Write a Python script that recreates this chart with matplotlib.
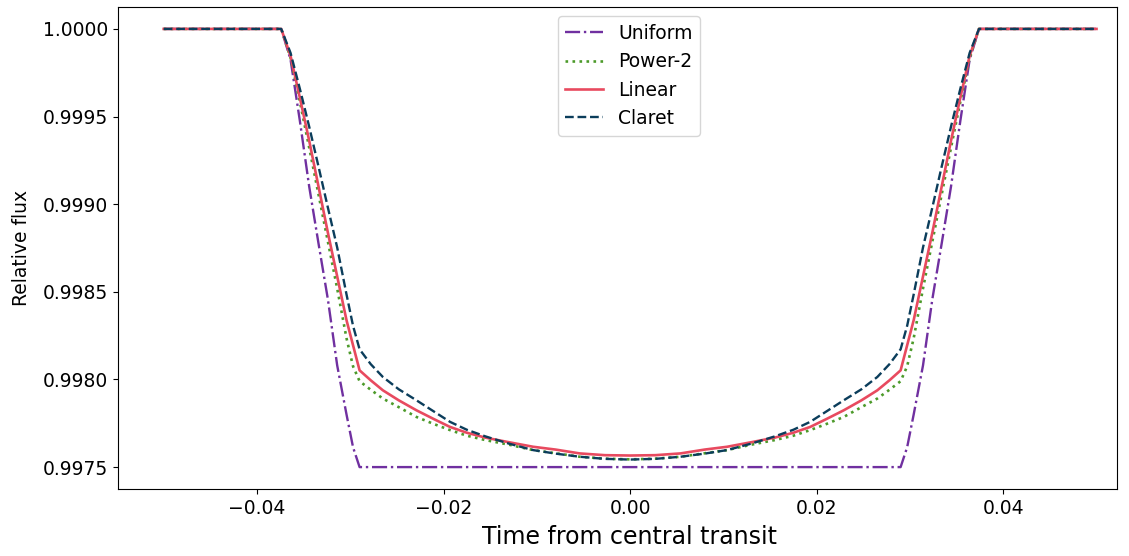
import numpy as np
import matplotlib
matplotlib.use("Agg")
import matplotlib.pyplot as plt

# --- data ---
time = [-0.0500, -0.0374, -0.0364, -0.0354, -0.0344, -0.0334, -0.0324, -0.0314,
        -0.0304, -0.0297, -0.0290, -0.0278, -0.0265, -0.0248, -0.0229, -0.0210,
        -0.0193, -0.0175, -0.0155, -0.0130, -0.0104, -0.0080, -0.0054, -0.0027,
        0.0000,
        0.0027, 0.0054, 0.0080, 0.0104, 0.0130, 0.0155, 0.0175, 0.0193,
        0.0210, 0.0229, 0.0248, 0.0265, 0.0278, 0.0290, 0.0297, 0.0304,
        0.0314, 0.0324, 0.0334, 0.0344, 0.0354, 0.0364, 0.0374, 0.0500]

flux_uniform = [1.000000, 1.000000, 0.999825, 0.999475, 0.999100, 0.998775, 0.998458, 0.998080,
                0.997800, 0.997613, 0.997500, 0.997500, 0.997500, 0.997500, 0.997500, 0.997500,
                0.997500, 0.997500, 0.997500, 0.997500, 0.997500, 0.997500, 0.997500, 0.997500,
                0.997500,
                0.997500, 0.997500, 0.997500, 0.997500, 0.997500, 0.997500, 0.997500, 0.997500,
                0.997500, 0.997500, 0.997500, 0.997500, 0.997500, 0.997500, 0.997613, 0.997800,
                0.998080, 0.998458, 0.998775, 0.999100, 0.999475, 0.999825, 1.000000, 1.000000]

flux_power2 = [1.000000, 1.000000, 0.999835, 0.999584, 0.999322, 0.999055, 0.998787, 0.998519,
               0.998235, 0.998075, 0.997990, 0.997941, 0.997891, 0.997842, 0.997786, 0.997745,
               0.997711, 0.997679, 0.997654, 0.997628, 0.997597, 0.997579, 0.997559, 0.997548,
               0.997544,
               0.997548, 0.997559, 0.997579, 0.997597, 0.997628, 0.997654, 0.997679, 0.997711,
               0.997745, 0.997786, 0.997842, 0.997891, 0.997941, 0.997990, 0.998075, 0.998235,
               0.998519, 0.998787, 0.999055, 0.999322, 0.999584, 0.999835, 1.000000, 1.000000]

flux_linear = [1.000000, 1.000000, 0.999846, 0.999607, 0.999362, 0.999100, 0.998838, 0.998588,
               0.998338, 0.998195, 0.998052, 0.997995, 0.997938, 0.997881, 0.997824, 0.997773,
               0.997729, 0.997696, 0.997668, 0.997642, 0.997616, 0.997600, 0.997578, 0.997568,
               0.997566,
               0.997568, 0.997578, 0.997600, 0.997616, 0.997642, 0.997668, 0.997696, 0.997729,
               0.997773, 0.997824, 0.997881, 0.997938, 0.997995, 0.998052, 0.998195, 0.998338,
               0.998588, 0.998838, 0.999100, 0.999362, 0.999607, 0.999846, 1.000000, 1.000000]

flux_claret = [1.000000, 1.000000, 0.999863, 0.999658, 0.999442, 0.999214, 0.998981, 0.998753,
               0.998485, 0.998306, 0.998172, 0.998087, 0.998014, 0.997944, 0.997881, 0.997816,
               0.997758, 0.997713, 0.997675, 0.997634, 0.997597, 0.997577, 0.997559, 0.997547,
               0.997543,
               0.997547, 0.997559, 0.997577, 0.997597, 0.997634, 0.997675, 0.997713, 0.997758,
               0.997816, 0.997881, 0.997944, 0.998014, 0.998087, 0.998172, 0.998306, 0.998485,
               0.998753, 0.998981, 0.999214, 0.999442, 0.999658, 0.999863, 1.000000, 1.000000]

# --- plotting ---
fig = plt.figure(figsize=(11.29, 5.56), dpi=100)
ax = fig.add_axes([0.1045, 0.1205, 0.8849, 0.8669])

ax.plot(time, flux_uniform, '-.', color='#7030a0', lw=1.7, label='Uniform')
ax.plot(time, flux_power2, ':', color='#4c9a2a', lw=1.9, label='Power-2')
ax.plot(time, flux_linear, '-', color='#e84a5f', lw=1.9, label='Linear')
ax.plot(time, flux_claret, '--', color='#0b3d5b', lw=1.7, label='Claret')

ax.set_xlim(-0.0549, 0.0522)
ax.set_xticks([-0.04, -0.02, 0.0, 0.02, 0.04])
ax.set_yticks([0.9975, 0.998, 0.9985, 0.999, 0.9995, 1.0])
ax.yaxis.set_major_formatter(matplotlib.ticker.FormatStrFormatter('%.4f'))
ax.tick_params(labelsize=13.5)
ax.set_xlabel('Time from central transit', fontsize=17)
ax.set_ylabel('Relative flux', fontsize=13.5)
ax.xaxis.set_label_coords(0.512, -0.075)
ax.yaxis.set_label_coords(-0.087, 0.5)
ax.legend(loc='upper center', bbox_to_anchor=(0.5115, 1.0), fontsize=13.5)

fig.savefig('out.png', dpi=100)
